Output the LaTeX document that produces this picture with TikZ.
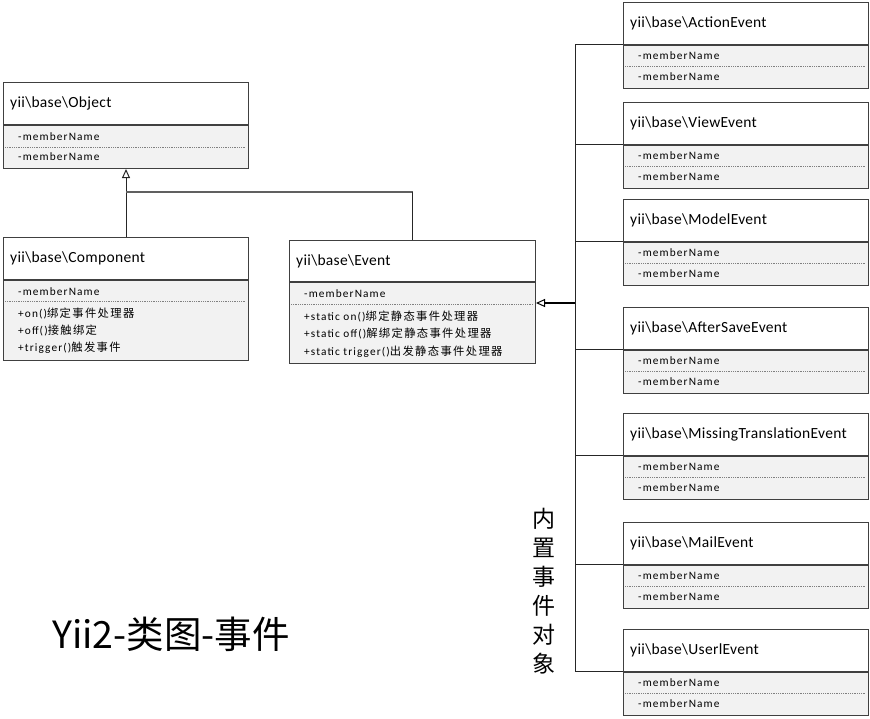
\documentclass[tikz,border=0pt]{standalone}
\usepackage{fontspec}
\setmainfont{Carlito}
\newfontfamily\cjk{Noto Sans CJK SC}
\newfontfamily\hdrfont[LetterSpace=2]{Carlito}
\newfontfamily\rowfont[LetterSpace=10]{Carlito}
\newfontfamily\rowcjk[LetterSpace=12]{Noto Sans CJK SC}
\usetikzlibrary{calc,arrows.meta}
\definecolor{boxborder}{HTML}{404040}
\definecolor{bodygray}{HTML}{F2F2F2}
\definecolor{sepgray}{HTML}{808080}
\definecolor{linegray}{HTML}{606060}
\tikzset{
  hdrbox/.style={draw=boxborder, fill=white, line width=1pt, anchor=north west, inner sep=0pt},
  bodybox/.style={draw=boxborder, fill=bodygray, line width=1pt, anchor=north west, inner sep=0pt},
  hdrtext/.style={anchor=west, inner sep=0pt, font=\fontsize{15.5}{18}\hdrfont},
  rowtext/.style={anchor=west, inner sep=0pt, font=\fontsize{11.3}{13}\rowfont},
  sepline/.style={draw=sepgray, densely dotted, line width=0.8pt},
  conn/.style={draw=black!85, line width=1pt},
  conngray/.style={draw=linegray, line width=1.8pt},
  thickconn/.style={draw=black, line width=2pt},
  genarrow/.style={-{Triangle[open, length=9pt, width=8pt, line width=1pt]}},
}
\newcommand\umlclass[7]{%
  \node[hdrbox, minimum width=#4, minimum height=#5] (#1) at (#2,#3) {};
  \node[bodybox, minimum width=#4, minimum height=#6] (#1b) at (#1.south west) {};
  \node[hdrtext] (#1t) at ($(#1.west)+(7,0)$) {#7};
}
\begin{document}
\begin{tikzpicture}[x=1pt,y=-1pt]
\useasboundingbox (0,0) rectangle (870,718);

% Object
\umlclass{obj}{3}{82}{245}{42}{43}{yii\textbackslash base\textbackslash Object}
\node[rowtext] (objr1) at ($(objb.north west)+(15,12)$) {-memberName};
\draw[sepline] ($(objb.north west)+(2,22)$) -- ($(objb.north east)+(-3,22)$);
\node[rowtext] (objr2) at ($(objb.north west)+(15,32)$) {-memberName};

% Component
\umlclass{comp}{3}{237}{245}{42}{80}{yii\textbackslash base\textbackslash Component}
\node[rowtext] (compr1) at ($(compb.north west)+(15,12)$) {-memberName};
\draw[sepline] ($(compb.north west)+(2,21)$) -- ($(compb.north east)+(-3,21)$);
\node[rowtext] (compr2) at ($(compb.north west)+(15,33)$) {+on()\rowcjk 绑定事件处理器};
\node[rowtext] (compr3) at ($(compb.north west)+(15,50)$) {+off()\rowcjk 接触绑定};
\node[rowtext] (compr4) at ($(compb.north west)+(15,68)$) {+trigger()\rowcjk 触发事件};

% Event
\umlclass{evt}{289}{240}{246}{41}{81}{yii\textbackslash base\textbackslash Event}
\node[rowtext] (evtr1) at ($(evtb.north west)+(15,12)$) {-memberName};
\draw[sepline] ($(evtb.north west)+(2,22)$) -- ($(evtb.north east)+(-3,22)$);
\node[rowtext] (evtr2) at ($(evtb.north west)+(15,34)$) {+static on()\rowcjk 绑定静态事件处理器};
\node[rowtext] (evtr3) at ($(evtb.north west)+(15,51)$) {+static off()\rowcjk 解绑定静态事件处理器};
\node[rowtext] (evtr4) at ($(evtb.north west)+(15,70)$) {+static trigger()\rowcjk 出发静态事件处理器};

% Built-in events
\foreach \n/\t/\y in {act/ActionEvent/2, view/ViewEvent/102, model/ModelEvent/199,
  save/AfterSaveEvent/307, miss/MissingTranslationEvent/413, mail/MailEvent/522, user/UserlEvent/629}{
  \umlclass{\n}{623}{\y}{245}{41.5}{43}{yii\textbackslash base\textbackslash\t}
  \node[rowtext] (\n r1) at ($(\n b.north west)+(15,11)$) {-memberName};
  \draw[sepline] ($(\n b.north west)+(2,22)$) -- ($(\n b.north east)+(-3,22)$);
  \node[rowtext] (\n r2) at ($(\n b.north west)+(15,32)$) {-memberName};
}

% generalization Component/Event -> Object
\coordinate (join) at ($(comp.north)+(0,-45)$);
\draw[conn, genarrow] (comp.north) -- (objb.south);
\draw[conngray] (join) -- (join -| evt.north);
\draw[conn] (join -| evt.north) -- (evt.north);

% bus of built-in events
\coordinate (bus) at (575,0);
\draw[conn] (act.south west -| bus) -- (user.south west -| bus);
\foreach \n in {act,view,model,save,miss,mail,user}{
  \draw[conn] (\n.south west) -- (\n.south west -| bus);
}
\coordinate (evtip) at ($(evtb.north east)+(0,21)$);
\draw[thickconn, genarrow] (evtip -| bus) -- (evtip);

% labels
\node[font=\cjk\fontsize{23}{29}\selectfont, align=center, inner sep=0pt] (vlabel) at (544,591) {内\\置\\事\\件\\对\\象};
\node[font=\cjk\fontsize{37.5}{40}\selectfont, inner sep=0pt] (title) at (171,634) {Yii2-类图-事件};
\end{tikzpicture}
\end{document}
